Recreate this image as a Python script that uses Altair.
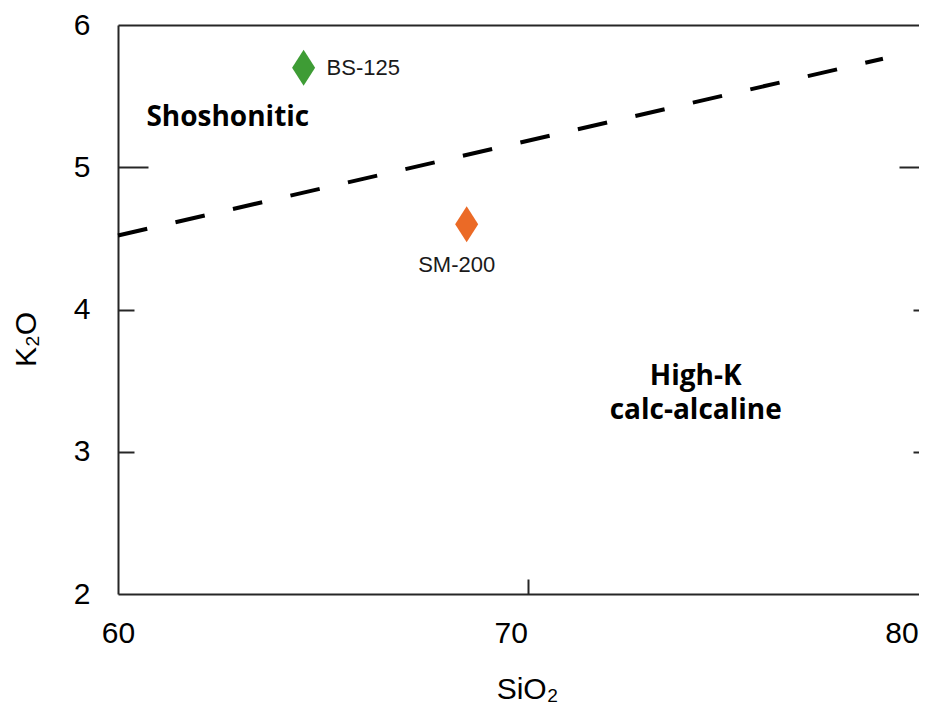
import altair as alt
import pandas as pd

# ---- data ----
samples = ["BS-125", "SM-200"]
sio2 = [64.53, 68.51]
k2o = [5.70, 4.60]
sample_colors = ["#3e9c35", "#eb6a26"]

boundary_sio2 = [60.0, 78.67]
boundary_k2o = [4.52, 5.763]

region_labels = ["Shoshonitic", "High-K\ncalc-alcaline"]
region_sio2 = [62.68, 74.10]
region_k2o = [5.287, 3.47]

# x tick labels: the "80" label sits left of the (cropped) 80 position in the reference
x_tick_values = [60, 70, 79.12]
x_tick_labels = ["60", "70", "80"]
y_ticks = [2, 3, 4, 5, 6]

# ---- tables ----
pts = pd.DataFrame({"sample": samples, "SiO2": sio2, "K2O": k2o})
line = pd.DataFrame({"SiO2": boundary_sio2, "K2O": boundary_k2o})
regions = pd.DataFrame({"label": region_labels, "SiO2": region_sio2, "K2O": region_k2o})

FR = "#262626"
FONT = "Liberation Sans"
xs = alt.Scale(domain=[60, 79.55], nice=False, zero=False)
ys = alt.Scale(domain=[2, 6], nice=False, zero=False)

diamond = "M0,-1L0.64,0L0,1L-0.64,0Z"

label_expr = "datum.value > 75 ? '%s' : datum.value > 65 ? '%s' : '%s'" % (
    x_tick_labels[2], x_tick_labels[1], x_tick_labels[0])

# main axes (labels, titles, frame lines)
x_main = alt.Axis(
    orient="bottom", values=x_tick_values, labelExpr=label_expr,
    ticks=False, tickSize=0, domain=True,
    domainColor=FR, domainWidth=2, labelFont=FONT, labelFontSize=30,
    labelColor="black", labelPadding=48, labelBaseline="alphabetic",
    labelFlush=False, labelOverlap=False,
    labelOffset={"condition": {"test": "datum.value == 70", "value": -17}, "value": 0},
    title="SiO₂", titleFont=FONT, titleFontSize=30, titleFontWeight="normal",
    titleColor="black", titleX=409, titleY=104, titleAlign="center",
    titleBaseline="alphabetic", grid=False)
y_main = alt.Axis(
    orient="left", values=y_ticks, ticks=False, tickSize=0, domain=True,
    domainColor=FR, domainWidth=2, labelFont=FONT, labelFontSize=30,
    labelColor="black", labelPadding=28, labelFlush=False, labelOverlap=False,
    title="K₂O", titleFont=FONT, titleFontSize=30, titleFontWeight="normal",
    titleColor="black", titleX=-83, titleY=314, titleAlign="center",
    titleBaseline="alphabetic", titleAngle=270, grid=False)

def tick_axis(orient, values, offset, size):
    return alt.Axis(orient=orient, values=values, offset=offset, tickSize=size,
                    tickWidth=2, tickColor=FR, labels=False, domain=False,
                    title=None, grid=False)

x_top = alt.Axis(orient="top", ticks=False, labels=False, domain=True,
                 domainColor=FR, domainWidth=2, title=None, grid=False)

boundary = alt.Chart(line).mark_line(
    color="black", strokeWidth=4, strokeDash=[30, 29]
).encode(
    x=alt.X("SiO2:Q", scale=xs, axis=x_main),
    y=alt.Y("K2O:Q", scale=ys, axis=y_main),
)

points = alt.Chart(pts).mark_point(
    filled=True, shape=diamond, size=1296, opacity=1
).encode(
    x=alt.X("SiO2:Q", scale=xs, axis=x_top),
    y=alt.Y("K2O:Q", scale=ys, axis=tick_axis("left", [3, 4], -16, 16)),
    color=alt.Color("sample:N", scale=alt.Scale(domain=samples, range=sample_colors), legend=None),
)

bs_label = alt.Chart(pts).transform_filter(alt.datum.sample == "BS-125").mark_text(
    align="left", baseline="middle", dx=23, font=FONT, fontSize=22, color="#1a1a1a"
).encode(
    x=alt.X("SiO2:Q", scale=xs, axis=tick_axis("bottom", [70], -15, 15)),
    y=alt.Y("K2O:Q", scale=ys, axis=tick_axis("left", [5], -30, 30)),
    text="sample:N",
)

sm_label = alt.Chart(pts).transform_filter(alt.datum.sample == "SM-200").mark_text(
    align="center", baseline="alphabetic", dx=-10, dy=48, font=FONT, fontSize=22, color="#1a1a1a"
).encode(
    x=alt.X("SiO2:Q", scale=xs, axis=None),
    y=alt.Y("K2O:Q", scale=ys, axis=tick_axis("right", [3, 4], -6, 16)),
    text="sample:N",
)

region_text = alt.Chart(regions).mark_text(
    align="center", baseline="alphabetic", font="Open Sans", fontWeight="bold",
    fontSize=28, color="black", lineBreak="\n", lineHeight=34
).encode(
    x=alt.X("SiO2:Q", scale=xs, axis=None),
    y=alt.Y("K2O:Q", scale=ys, axis=tick_axis("right", [5], -20, 30)),
    text="label:N",
)

chart = alt.layer(boundary, points, bs_label, sm_label, region_text).resolve_axis(
    x="independent", y="independent"
).properties(
    width=801, height=569,
    autosize=alt.AutoSizeParams(type="none"),
    padding={"left": 110, "top": 17, "right": 0, "bottom": 110},
).configure_view(stroke=None).configure_axis(grid=False)

chart.save("out.html", embed_options={"renderer": "svg", "actions": False})
